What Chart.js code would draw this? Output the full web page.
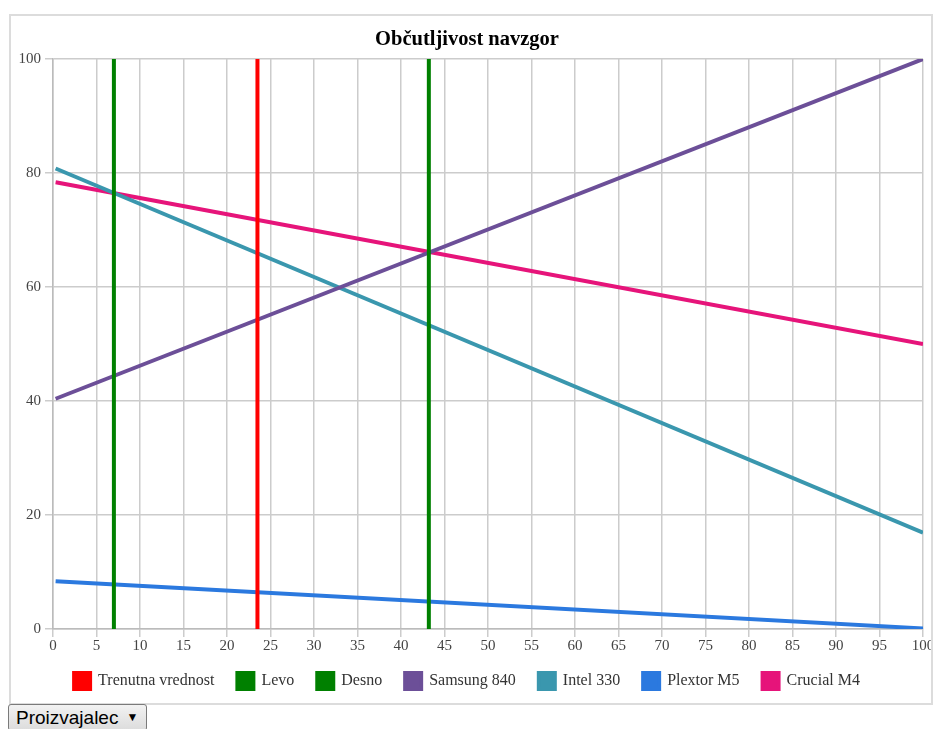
<!DOCTYPE html>
<html>
<head>
<meta charset="utf-8">
<script src="https://cdn.jsdelivr.net/npm/chart.js@4/dist/chart.umd.min.js"></script>
<style>
  html, body { margin: 0; padding: 0; background: #fff; }
  #frame { position: absolute; left: 9px; top: 14px; width: 920px; height: 687px; border: 2px solid #dcdcdc; }
  #wrap { position: absolute; left: 0; top: 0; width: 920px; height: 687px; }
  #sel { position: absolute; left: 8px; top: 704px; width: 139px; height: 27px; box-sizing: border-box;
         font: 19px "Liberation Sans", Arial, sans-serif; color: #000; text-align: left; padding: 0 0 0 7px;
         background: linear-gradient(#f2f2f2, #dcdcdc); border: 1px solid #7a7a7a; border-radius: 3px; }
  #sel .arr { font-size: 12px; margin-left: 8px; vertical-align: 3px; }
</style>
</head>
<body>
<div id="frame"><div id="wrap"><canvas id="c"></canvas></div></div>
<button id="sel">Proizvajalec<span class="arr">▼</span></button>
<script>
const chartTitle = "Občutljivost navzgor";
const xTicks = [0,5,10,15,20,25,30,35,40,45,50,55,60,65,70,75,80,85,90,95,100];
const yTicks = [0,20,40,60,80,100];

const seriesNames = ["Trenutna vrednost","Levo","Desno","Samsung 840","Intel 330","Plextor M5","Crucial M4"];
const seriesColors = ["#ff0000","#008000","#008000","#6c4f98","#3a97ae","#2b79df","#e6147a"];

// vertical markers
const trenutnaX = [23.5, 23.5];
const trenutnaY = [0, 100];
const levoX = [7.0, 7.0];
const levoY = [0, 100];
const desnoX = [43.2, 43.2];
const desnoY = [0, 100];

// line series endpoints
const lineX = [0.3, 100];
const samsung840 = [40.4, 100];
const intel330 = [80.8, 16.9];
const plextorM5 = [8.4, 0.1];
const crucialM4 = [78.4, 50.0];

const toPts = (xs, ys) => xs.map((x, i) => ({x: x, y: ys[i]}));
const seriesData = [
  toPts(trenutnaX, trenutnaY),
  toPts(levoX, levoY),
  toPts(desnoX, desnoY),
  toPts(lineX, samsung840),
  toPts(lineX, intel330),
  toPts(lineX, plextorM5),
  toPts(lineX, crucialM4)
];

const serif = "'Liberation Serif', 'Times New Roman', serif";

// trims the legend's vertical space while keeping wide horizontal spacing
const legendTrim = {
  id: 'legendTrim',
  beforeLayout(chart) {
    const lg = chart.legend;
    if (!lg || lg._trimmed) return;
    lg._trimmed = true;
    const K = 4, SHIFT = 5;
    const of = lg.fit;
    lg.fit = function () { of.call(this); this.height -= K; };
    const od = lg.draw;
    lg.draw = function () { this.top -= SHIFT; od.call(this); this.top += SHIFT; };
  }
};

new Chart(document.getElementById('c'), {
  type: 'scatter',
  data: {
    datasets: seriesNames.map((n, i) => ({
      label: n,
      data: seriesData[i],
      showLine: true,
      borderColor: seriesColors[i],
      backgroundColor: seriesColors[i],
      borderWidth: 4,
      pointRadius: 0,
      pointHoverRadius: 0
    }))
  },
  plugins: [legendTrim],
  options: {
    responsive: true,
    maintainAspectRatio: false,
    animation: false,
    layout: { padding: { left: 0, right: 8, top: 0, bottom: 3 } },
    plugins: {
      title: {
        display: true,
        text: chartTitle,
        color: '#000',
        font: { family: serif, size: 20.5, weight: 'bold' },
        padding: { top: 11.5, bottom: 7 }
      },
      legend: {
        position: 'bottom',
        labels: {
          color: '#333',
          font: { family: serif, size: 16 },
          boxWidth: 16,
          boxHeight: 16,
          padding: 23
        }
      },
      tooltip: { enabled: false }
    },
    scales: {
      x: {
        type: 'linear',
        min: 0, max: 100,
        afterBuildTicks: (s) => { s.ticks = xTicks.map(v => ({value: v})); },
        afterFit: (s) => { s.paddingLeft = 0; s.paddingRight = 0; },
        grid: { color: '#cccccc', lineWidth: 1.5, tickLength: 8 },
        border: { color: '#bbbbbb', width: 1.5 },
        ticks: { color: '#444', font: { family: serif, size: 15 }, padding: 0, maxRotation: 0, autoSkip: false }
      },
      y: {
        min: 0, max: 100,
        afterBuildTicks: (s) => { s.ticks = yTicks.map(v => ({value: v})); },
        afterFit: (s) => { s.width = 42; },
        grid: { color: '#cccccc', lineWidth: 1.5, tickLength: 8 },
        border: { color: '#bbbbbb', width: 1.5 },
        ticks: { color: '#444', font: { family: serif, size: 15 }, padding: 4 }
      }
    }
  }
});
</script>
</body>
</html>
